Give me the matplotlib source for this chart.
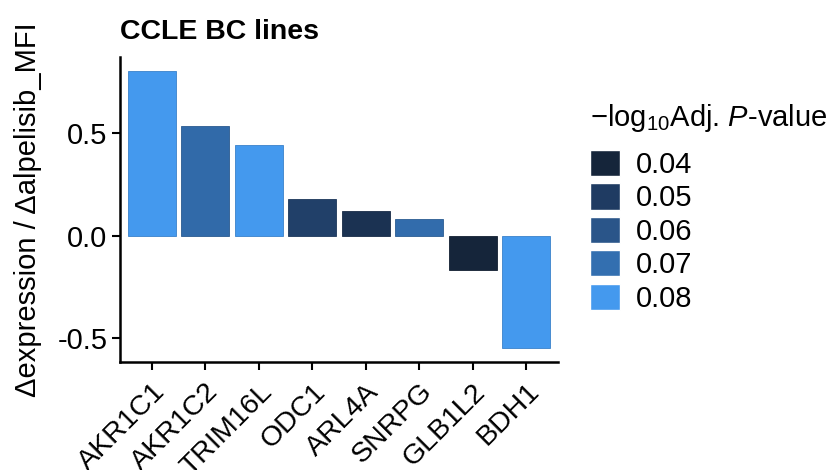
import matplotlib
matplotlib.use("Agg")
import matplotlib.pyplot as plt
import matplotlib.transforms as mtransforms
from matplotlib.colors import LinearSegmentedColormap, Normalize
from matplotlib.patches import Patch

plt.rcParams['font.family'] = ['Liberation Sans', 'DejaVu Sans']
plt.rcParams['mathtext.fontset'] = 'custom'
plt.rcParams['mathtext.rm'] = 'Liberation Sans'
plt.rcParams['mathtext.it'] = 'Liberation Sans:italic'

genes = ["AKR1C1", "AKR1C2", "TRIM16L", "ODC1", "ARL4A", "SNRPG", "GLB1L2", "BDH1"]
ratio = [0.803, 0.532, 0.440, 0.180, 0.122, 0.082, -0.165, -0.547]
neglogp = [0.082, 0.068, 0.081, 0.052, 0.046, 0.069, 0.040, 0.082]

legend_vals = [0.04, 0.05, 0.06, 0.07, 0.08]
legend_labels = ["0.04", "0.05", "0.06", "0.07", "0.08"]
legend_cols = ["#15253a", "#1f3b62", "#2a5589", "#336fb0", "#4499ee"]

cmap = LinearSegmentedColormap.from_list(
    "p", [((v - 0.04) / 0.04, c) for v, c in zip(legend_vals, legend_cols)])
norm = Normalize(vmin=0.04, vmax=0.08, clip=True)

W, H = 833, 470
fig = plt.figure(figsize=(W / 100, H / 100), dpi=100)
ax = fig.add_axes([0.144, 0.230, 0.526, 0.649])

x = list(range(len(genes)))
colors = [cmap(norm(v)) for v in neglogp]
edge = [tuple(c * 0.85 for c in col[:3]) for col in colors]
ax.bar(x, ratio, width=0.9, color=colors, edgecolor=edge, linewidth=0.6)

lo, hi = min(min(ratio), 0), max(max(ratio), 0)
pad = 0.05 * (hi - lo)
ax.set_ylim(lo - pad, hi + pad)
ax.set_xlim(-0.6, len(genes) - 1 + 0.6)

ax.set_xticks(x)
ax.set_xticklabels(genes, rotation=45, ha='right', rotation_mode='anchor', fontsize=20.5)
offset = mtransforms.ScaledTranslation(3 / 100, 0, fig.dpi_scale_trans)
for lab in ax.get_xticklabels():
    lab.set_transform(lab.get_transform() + offset)
ax.set_yticks([-0.5, 0.0, 0.5])
ax.set_yticklabels(["-0.5", "0.0", "0.5"], fontsize=21)
ax.tick_params(axis='both', length=6, width=1.5, color='black', labelcolor='black', pad=3)
ax.tick_params(axis='x', pad=6)
for s in ['top', 'right']:
    ax.spines[s].set_visible(False)
for s in ['left', 'bottom']:
    ax.spines[s].set_linewidth(1.8)

ax.set_ylabel("Δexpression / Δalpelisib_MFI", fontsize=21, labelpad=11)
ax.set_title("CCLE BC lines", fontsize=20.5, fontweight='bold', loc='left', pad=13)

# legend title
fig.text(590 / W, 1 - 126 / H, r"$-$log$_{10}$Adj. $\mathit{P}$-value",
         fontsize=21, ha='left', va='baseline')

handles = [Patch(facecolor=c, edgecolor='white', linewidth=1.0) for c in legend_cols]
leg = fig.legend(handles, legend_labels,
                 loc='upper left', bbox_to_anchor=(590 / W, 1 - 150 / H),
                 frameon=False, fontsize=21,
                 handlelength=1.03, handleheight=1.0, labelspacing=0.15,
                 handletextpad=0.55, borderaxespad=0, borderpad=0)

fig.savefig("out.png", dpi=100)
